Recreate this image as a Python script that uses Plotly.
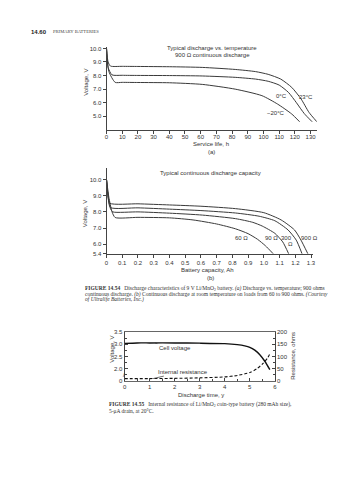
import plotly.graph_objects as go

W, H = 358, 480
def PX(x): return x / W
def PY(y): return 1 - y / H

# ---------------- data: (a) discharge vs temperature ----------------
hours_23 = [0, 1, 2.5, 10, 20, 40, 61, 82, 95, 103, 111, 118, 124, 129, 134]
volts_23 = [10.0, 9.0, 8.7, 8.68, 8.67, 8.65, 8.6, 8.45, 8.29, 8.09, 7.74, 7.13, 6.27, 5.29, 4.6]
hours_0 = [0, 1, 3.5, 10, 20, 40, 61, 82, 95, 103, 110, 116, 121, 126, 131]
volts_0 = [10.0, 8.6, 8.05, 8.02, 8.01, 8.0, 7.97, 7.87, 7.74, 7.58, 7.3, 6.75, 6.0, 5.2, 4.6]
hours_m20 = [0, 1.5, 5.5, 10, 20, 40, 61, 82, 99, 109, 118, 123]
volts_m20 = [10.0, 8.3, 7.5, 7.5, 7.49, 7.47, 7.35, 7.0, 6.52, 5.9, 5.17, 4.6]
a_xticks = list(range(0, 131, 10))
a_yticks = [5, 6, 7, 8, 9, 10]
a_ytext = ["5.0", "6.0", "7.0", "8.0", "9.0", "10.0"]

# ---------------- data: (b) continuous discharge capacity ----------------
cap_60 = [0, 0.015, 0.035, 0.055, 0.2, 0.4, 0.55, 0.7, 0.82, 0.9, 0.96, 1.01, 1.06]
v_60 = [10.0, 8.9, 8.0, 7.65, 7.66, 7.63, 7.5, 7.25, 6.95, 6.65, 6.3, 5.9, 5.4]
cap_90 = [0, 0.01, 0.025, 0.04, 0.2, 0.4, 0.61, 0.82, 0.93, 0.99, 1.07, 1.12, 1.158]
v_90 = [10.0, 9.0, 8.2, 8.0, 8.0, 7.92, 7.8, 7.58, 7.35, 7.12, 6.67, 6.14, 5.4]
cap_300 = [0, 0.01, 0.025, 0.2, 0.4, 0.6, 0.82, 0.97, 1.07, 1.154, 1.206, 1.243]
v_300 = [10.0, 8.9, 8.27, 8.25, 8.17, 8.08, 7.93, 7.73, 7.45, 6.88, 6.25, 5.4]
cap_900 = [0, 0.008, 0.02, 0.2, 0.4, 0.6, 0.82, 1.0, 1.11, 1.195, 1.236, 1.28]
v_900 = [10.0, 9.2, 8.54, 8.5, 8.43, 8.35, 8.2, 7.95, 7.5, 6.88, 6.25, 5.4]
b_xticks = [round(0.1 * i, 1) for i in range(14)]
b_xtext = ["0"] + [f"{v:.1f}" for v in b_xticks[1:]]
b_yticks = [5.4, 6, 7, 8, 9, 10]
b_ytext = ["5.4", "6.0", "7.0", "8.0", "9.0", "10.0"]

# ---------------- data: (c) internal resistance ----------------
years_v = [0, 0.5, 1, 2, 3, 4, 4.5, 4.8, 5.0, 5.2, 5.4, 5.6, 5.8]
cell_v = [3.04, 3.06, 3.06, 3.06, 3.05, 3.03, 2.99, 2.94, 2.88, 2.76, 2.57, 2.3, 1.95]
years_r = [0, 1, 2, 3, 4, 4.5, 5.0, 5.3, 5.5, 5.7, 5.8]
res_ohm = [8, 8, 9, 11, 15, 21, 33, 50, 68, 92, 110]
c_xticks = [0, 1, 2, 3, 4, 5, 6]
c_yticks = [1.5, 2.0, 2.5, 3.0, 3.5]
c_ytext = ["0", "2.0", "2.5", "3.0", "3.5"]
c_rticks = [0, 50, 100, 150, 200]

SANS = "Liberation Sans, Arial, sans-serif"
SERIF = "Liberation Serif, Times New Roman, serif"
LC = "#3a3a3a"

fig = go.Figure()
for xs, ys in [(hours_23, volts_23), (hours_0, volts_0), (hours_m20, volts_m20)]:
    fig.add_trace(go.Scatter(x=xs, y=ys, mode="lines", line=dict(color=LC, width=1, shape="spline", smoothing=0.6),
                             xaxis="x", yaxis="y", hoverinfo="skip"))
for xs, ys in [(cap_60, v_60), (cap_90, v_90), (cap_300, v_300), (cap_900, v_900)]:
    fig.add_trace(go.Scatter(x=xs, y=ys, mode="lines", line=dict(color=LC, width=1, shape="spline", smoothing=0.6),
                             xaxis="x2", yaxis="y2", hoverinfo="skip"))
fig.add_trace(go.Scatter(x=years_v, y=cell_v, mode="lines", line=dict(color="#111", width=1.4, shape="spline", smoothing=0.6),
                         xaxis="x3", yaxis="y3", hoverinfo="skip"))
fig.add_trace(go.Scatter(x=years_r, y=res_ohm, mode="lines", line=dict(color="#111", width=1.1, dash="3px,2px", shape="spline", smoothing=0.6),
                         xaxis="x3", yaxis="y4", hoverinfo="skip"))

tickfont = dict(family=SANS, size=6, color="#333")
ax_common = dict(showline=True, linecolor="#444", linewidth=1, showgrid=False, zeroline=False,
                 ticks="outside", ticklen=3, tickcolor="#444", tickfont=tickfont)

fig.update_layout(
    width=W, height=H, margin=dict(l=0, r=0, t=0, b=0),
    paper_bgcolor="white", plot_bgcolor="white", showlegend=False,
    xaxis=dict(domain=[PX(106), PX(319.3)], range=[0, 134], anchor="y", tickvals=a_xticks,
               ticklabelstandoff=-2, **ax_common),
    yaxis=dict(domain=[PY(128.5), PY(44.6)], range=[4, 10.1], anchor="x", tickvals=a_yticks, ticktext=a_ytext, **ax_common),
    xaxis2=dict(domain=[PX(106), PX(315)], range=[0, 1.31], anchor="y2", tickvals=b_xticks, ticktext=b_xtext, **ax_common),
    yaxis2=dict(domain=[PY(254), PY(167.4)], range=[5.4, 10.7], anchor="x2", tickvals=b_yticks, ticktext=b_ytext, **ax_common),
    xaxis3=dict(domain=[PX(124.3), PX(276.7)], range=[0, 6], anchor="y3", tickvals=c_xticks, mirror=True,
                minor=dict(dtick=0.5, ticks="inside", ticklen=2, tickcolor="#444"),
                **{**ax_common, "ticks": "inside", "linecolor": "#666"}),
    yaxis3=dict(domain=[PY(382.3), PY(333.5)], range=[1.5, 3.5], anchor="x3", tickvals=c_yticks, ticktext=c_ytext,
                minor=dict(dtick=0.25, ticks="inside", ticklen=2, tickcolor="#444"),
                **{**ax_common, "ticks": "inside"}),
    yaxis4=dict(range=[0, 200], anchor="x3", overlaying="y3", side="right", tickvals=c_rticks,
                minor=dict(dtick=25, ticks="inside", ticklen=2, tickcolor="#444"),
                **{**ax_common, "ticks": "inside"}),
)

def note(text, x, y, size=6, family=SANS, xanchor="center", angle=0, color="#333"):
    fig.add_annotation(text=text, x=PX(x), y=PY(y), xref="paper", yref="paper", showarrow=False,
                       xanchor=xanchor, yanchor="middle", textangle=angle,
                       font=dict(family=family, size=size, color=color))

# header
note("<b>14.60</b>", 27, 29, size=6, family=SANS, xanchor="left", color="#222")
note("PRIMARY BATTERIES", 50, 29, size=4.6, family=SERIF, xanchor="left", color="#444")

# (a)
note("Typical discharge vs. temperature", 213, 45.7)
note("900 Ω continuous discharge", 213, 53)
note("Voltage, V", 85, 80, angle=-90)
note("Service life, h", 212, 142.5)
note("(a)", 212, 151)
for t, xv, yv in [("23°C", 126.9, 6.4), ("0°C", 111.2, 6.47), ("−20°C", 108, 5.24)]:
    fig.add_annotation(text=t, x=xv, y=yv, xref="x", yref="y", showarrow=False, font=dict(family=SANS, size=6, color="#333"))

# (b)
note("Typical continuous discharge capacity", 211, 172.3)
note("Voltage, V", 85, 213, angle=-90)
note("Battery capacity, Ah", 208, 270)
note("(b)", 211.7, 278.3)
for t, xv, yv in [("60 Ω", 0.861, 6.35), ("90 Ω", 1.049, 6.35), ("300", 1.143, 6.35), ("Ω", 1.17, 6.0), ("900 Ω", 1.29, 6.35)]:
    fig.add_annotation(text=t, x=xv, y=yv, xref="x2", yref="y2", showarrow=False, font=dict(family=SANS, size=6, color="#333"))

# caption 14.54
cap = 5.5
note("<b>FIGURE 14.54</b>   Discharge characteristics of 9 V Li/MnO<sub>2</sub> battery. <i>(a)</i> Discharge vs. temperature; 900 ohms",
     81.7, 289.3, size=cap, family=SERIF, xanchor="left")
note("continuous discharge. <i>(b)</i> Continuous discharge at room temperature on loads from 60 to 900 ohms. <i>(Courtesy</i>",
     81.7, 295, size=cap, family=SERIF, xanchor="left")
note("<i>of Ultralife Batteries, Inc.)</i>", 81.7, 300.7, size=cap, family=SERIF, xanchor="left")

# (c)
note("Voltage, V", 110.7, 351, angle=-90)
note("Resistance, ohms", 294.3, 357, angle=-90)
note("Discharge time, y", 201.7, 396.7)
note("/", 123.3, 376.7, size=6)
fig.add_annotation(text="Cell voltage", x=1.21, y=3.06, xref="x3", yref="y3", showarrow=True, arrowhead=0,
                   arrowwidth=0.7, arrowcolor="#333", ax=20, ay=5, font=dict(family=SANS, size=6, color="#333"))
fig.add_annotation(text="Internal resistance", x=1.14, y=8, xref="x3", yref="y4", showarrow=True, arrowhead=0,
                   arrowwidth=0.7, arrowcolor="#333", ax=30, ay=-7, font=dict(family=SANS, size=6, color="#333"))

# caption 14.55
note("<b>FIGURE 14.55</b>   Internal resistance of Li/MnO<sub>2</sub> coin-type battery (280 mAh size),",
     106.7, 406.7, size=cap, family=SERIF, xanchor="left")
note("5-μA drain, at 20°C.", 106.7, 413.3, size=cap, family=SERIF, xanchor="left")

fig.write_html("out.html", config={"displayModeBar": False},
               post_script="document.body.style.margin='0px';document.body.style.overflow='hidden';")
